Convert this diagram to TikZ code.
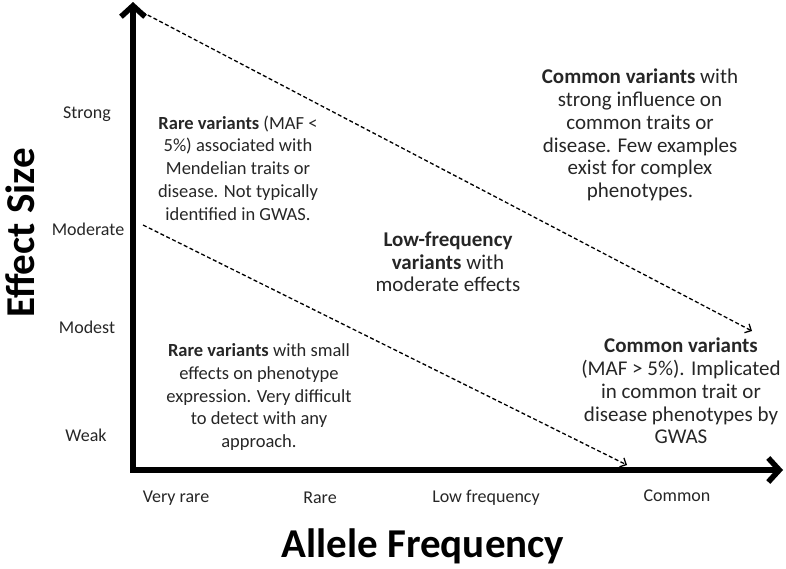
\documentclass[tikz,border=0pt]{standalone}
\usepackage{fontspec}
\setmainfont{Carlito}
\usetikzlibrary{arrows.meta}
\begin{document}
\begin{tikzpicture}[x=1pt,y=-1pt,
  axis/.style={line width=5.5pt,-{Straight Barb[length=11pt,width=24pt]}},
  guide/.style={line width=1.3pt,dash pattern=on 4pt off 2.5pt,-{Straight Barb[length=5pt,width=10pt]}},
  tick/.style={font=\fontsize{18}{22}\selectfont,text=black!85},
  body/.style={font=\fontsize{18.5}{22.7}\selectfont,align=center,text=black!85,inner sep=0pt},
  bigbody/.style={body,font=\fontsize{21}{22.7}\selectfont},
  title/.style={font=\fontsize{41}{44}\selectfont\bfseries,inner sep=0pt}]
\useasboundingbox (0,0) rectangle (786,568);
% axes
\coordinate (o) at (133,470);
\coordinate (ytop) at (133,2);
\coordinate (xend) at (783,470);
\draw[axis] (133,472.75) -- (ytop);
\draw[axis] (130.25,470) -- (xend);
% dashed guides
\coordinate (g1s) at (142,12);
\coordinate (g1e) at (752,331);
\coordinate (g2s) at (143,225);
\coordinate (g2e) at (627,465);
\draw[guide] (g1s) -- (g1e);
\draw[guide] (g2s) -- (g2e);
% axis titles
\node[title,rotate=90] (ytitle) at (20,233) {Effect Size};
\node[title] (xtitle) at (423,546) {Allele Frequency};
% y ticks
\node[tick] (strong) at (87,114) {Strong};
\node[tick] (moderate) at (88,229) {Moderate};
\node[tick] (modest) at (87,327) {Modest};
\node[tick] (weak) at (86,435) {Weak};
% x ticks
\node[tick] (vrare) at (176,498) {Very rare};
\node[tick] (rare) at (320,498) {Rare};
\node[tick] (lowf) at (486,498) {Low frequency};
\node[tick] (common) at (677,496) {Common};
% text blocks
\node[body] (b1) at (238,168) {\textbf{Rare variants} (MAF <\\5\%) associated with\\Mendelian traits or\\disease. Not typically\\identified in GWAS.};
\node[bigbody] (b2) at (448,262) {\textbf{Low-frequency}\\\textbf{variants} with\\moderate effects};
\node[bigbody] (b3) at (640,135) {\textbf{Common variants} with\\strong influence on\\common traits or\\disease. Few examples\\exist for complex\\phenotypes.};
\node[bigbody] (b4) at (681,391) {\textbf{Common variants}\\(MAF > 5\%). Implicated\\in common trait or\\disease phenotypes by\\GWAS};
\node[body] (b5) at (259,397) {\textbf{Rare variants} with small\\effects on phenotype\\expression. Very difficult\\to detect with any\\approach.};
\end{tikzpicture}
\end{document}
